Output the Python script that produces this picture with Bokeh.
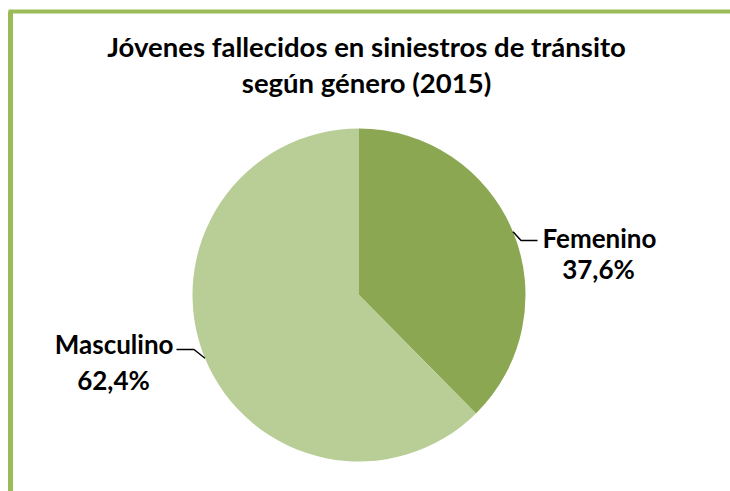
import math
from bokeh.plotting import figure
from bokeh.models import Range1d, ColumnDataSource
from bokeh.core.properties import value
from bokeh.embed import file_html
from bokeh.resources import INLINE

# ---- data ----
categories = ["Femenino", "Masculino"]
percent = [37.6, 62.4]
pct_labels = ["37,6%", "62,4%"]
colors = ["#8BA752", "#B9CE96"]
title_lines = ["Jóvenes fallecidos en siniestros de tránsito", "según género (2015)"]

W, H = 730, 491
p = figure(width=W, height=H, output_backend="svg", toolbar_location=None,
           x_range=Range1d(0, W), y_range=Range1d(0, H), min_border=0,
           background_fill_color="white", border_fill_color="white")
p.axis.visible = False
p.grid.visible = False
p.outline_line_color = None

def sx(x):  # screen -> data x
    return x
def sy(y):
    return H - y

# border
border_col = "#9BBB59"
p.line([sx(10), sx(10)], [sy(500), sy(11)], line_color=border_col, line_width=5)
p.line([sx(8), sx(740)], [sy(11), sy(11)], line_color=border_col, line_width=4)

# pie
cx, cy, r = sx(358.5), sy(294.5), 166.5
total = sum(percent)
starts, ends, mids = [], [], []
cum = 0.0
for v in percent:
    a0 = math.pi / 2 - 2 * math.pi * (cum + v) / total
    a1 = math.pi / 2 - 2 * math.pi * cum / total
    starts.append(a0)
    ends.append(a1)
    mids.append((a0 + a1) / 2)
    cum += v
src = ColumnDataSource(dict(start=starts, end=ends, color=colors))
p.wedge(x=cx, y=cy, radius=r, start_angle="start", end_angle="end",
        fill_color="color", line_color=None, source=src)

# leader lines
fx = [cx + r * math.cos(mids[0]), cx + r * math.cos(mids[0]) + 8, sx(537)]
fy = [cy + r * math.sin(mids[0]), sy(240), sy(240)]
mx = [cx + r * math.cos(mids[1]), cx + r * math.cos(mids[1]) - 11, sx(176)]
my = [cy + r * math.sin(mids[1]), sy(349), sy(349)]
p.multi_line([fx, mx], [fy, my], line_color="black", line_width=1.5)

font = value("Lato")
# labels
p.text(x=[sx(542), sx(598)], y=[sy(237), sy(268)], text=[categories[0], pct_labels[0]],
       text_align=["left", "center"], text_baseline="middle", text_font=font,
       text_font_style="bold", text_font_size="26px", text_color="black")
p.text(x=[sx(173), sx(113)], y=[sy(343), sy(379)], text=[categories[1], pct_labels[1]],
       text_align=["right", "center"], text_baseline="middle", text_font=font,
       text_font_style="bold", text_font_size="26px", text_color="black")

# title
p.text(x=[sx(366), sx(366)], y=[sy(46), sy(82)], text=title_lines,
       text_align="center", text_baseline="middle", text_font=font,
       text_font_style="bold", text_font_size="27.5px", text_color="black")

open("out.html", "w").write(file_html(p, INLINE))
